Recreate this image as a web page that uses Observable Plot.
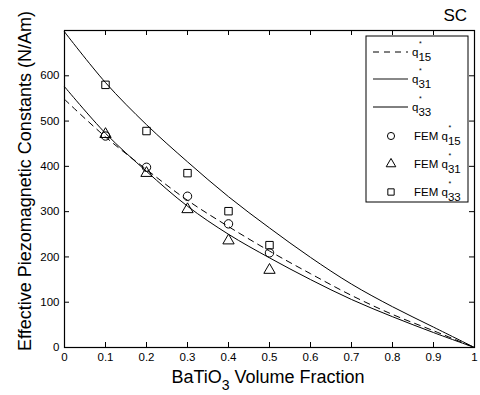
<!DOCTYPE html>
<html><head><meta charset="utf-8">
<script src="https://cdn.jsdelivr.net/npm/d3@7"></script>
<script src="https://cdn.jsdelivr.net/npm/@observablehq/plot@0.6"></script>
<style>body{margin:0;background:#fff} #chart{width:480px;height:395px}</style>
</head><body><div id="chart"></div>
<script>
// ---- data ----
const vf = [0, 0.1, 0.2, 0.3, 0.4, 0.5, 0.6, 0.7, 0.8, 0.9, 1.0];
const q15 = [548, 465, 393, 325, 267, 213, 163, 115, 73, 37, 0];
const q31 = [576, 473, 389, 312, 250, 198, 150, 106, 68, 33, 0];
const q33 = [697, 585, 492, 410, 333, 264, 199, 140, 90, 45, 0];
const femVf = [0.1, 0.2, 0.3, 0.4, 0.5];
const femQ15 = [467, 398, 334, 273, 209];
const femQ31 = [471, 385, 305, 236, 171];
const femQ33 = [580, 478, 385, 301, 226];
const xTicks = [0, 0.1, 0.2, 0.3, 0.4, 0.5, 0.6, 0.7, 0.8, 0.9, 1];
const yTicks = [0, 100, 200, 300, 400, 500, 600];

const W = 480, H = 395, mL = 64, mR = 6, mT = 30, mB = 48;
const innerW = W - mL - mR, innerH = H - mT - mB;
const FONT = "'Liberation Sans', Arial, sans-serif";

const curve = (ys) => vf.map((x, i) => ({x, y: ys[i]}));
const fem = (ys) => femVf.map((x, i) => ({x, y: ys[i]}));

const chart = Plot.plot({
  width: W, height: H,
  marginLeft: mL, marginRight: mR, marginTop: mT, marginBottom: mB,
  x: {domain: [0, 1]},
  y: {domain: [0, 700]},
  style: {fontFamily: FONT, fontSize: "11.5px", color: "#000", background: "#fff", overflow: "visible"},
  marks: [
    Plot.axisX(xTicks, {tickSize: 0, tickPadding: 5, label: null, tickFormat: d => String(d), fontSize: 11.5}),
    Plot.axisY(yTicks, {tickSize: 0, tickPadding: 5, label: null, fontSize: 11.5}),
    Plot.tickX(xTicks.slice(1, -1), {x: d => d, insetTop: innerH - 5, stroke: "#000"}),
    Plot.tickX(xTicks.slice(1, -1), {x: d => d, insetBottom: innerH - 5, stroke: "#000"}),
    Plot.tickY(yTicks.slice(1), {y: d => d, insetRight: innerW - 5, stroke: "#000"}),
    Plot.tickY(yTicks.slice(1), {y: d => d, insetLeft: innerW - 5, stroke: "#000"}),
    Plot.line(curve(q33), {x: "x", y: "y", curve: "catmull-rom", stroke: "#000", strokeWidth: 1}),
    Plot.line(curve(q31), {x: "x", y: "y", curve: "catmull-rom", stroke: "#000", strokeWidth: 1}),
    Plot.line(curve(q15), {x: "x", y: "y", curve: "catmull-rom", stroke: "#000", strokeWidth: 1, strokeDasharray: "6,5"}),
    Plot.dot(fem(femQ15), {x: "x", y: "y", symbol: "circle", r: 4.2, stroke: "#000", fill: "none", strokeWidth: 1}),
    Plot.dot(fem(femQ31), {x: "x", y: "y", symbol: "triangle", r: 4.2, stroke: "#000", fill: "none", strokeWidth: 1}),
    Plot.dot(fem(femQ33), {x: "x", y: "y", symbol: "square", r: 4.2, stroke: "#000", fill: "none", strokeWidth: 1}),
    Plot.frame({stroke: "#000", strokeWidth: 1.2})
  ]
});
document.getElementById("chart").appendChild(chart);

// ---- texts and legend drawn into the same SVG ----
const svg = d3.select(chart);
const g = svg.append("g").attr("font-family", FONT).attr("fill", "#000").attr("text-anchor", "start");

g.append("text").attr("x", 467).attr("y", 21).attr("text-anchor", "end").attr("font-size", 17).text("SC");

const xl = g.append("text").attr("x", 268).attr("y", 383).attr("text-anchor", "middle").attr("font-size", 18);
xl.append("tspan").text("BaTiO");
xl.append("tspan").attr("font-size", 14).attr("dy", 7).text("3");
xl.append("tspan").attr("dy", -7).text(" Volume Fraction");

g.append("text").attr("transform", "translate(31,181) rotate(-90)").attr("text-anchor", "middle")
  .attr("font-size", 18).text("Effective Piezomagnetic Constants (N/Am)");

// legend
const lg = svg.append("g").attr("font-family", FONT).attr("text-anchor", "start").attr("fill", "#000");
lg.append("rect").attr("x", 366).attr("y", 36).attr("width", 102).attr("height", 166)
  .attr("fill", "#fff").attr("stroke", "#000").attr("stroke-width", 1);
const legendItems = [
  {type: "line", dash: "6,5", color: "#000", w: 1, prefix: "", sub: "15"},
  {type: "line", dash: null, color: "#888", w: 2, prefix: "", sub: "31"},
  {type: "line", dash: null, color: "#000", w: 1, prefix: "", sub: "33"},
  {type: "sym", sym: d3.symbolCircle, prefix: "FEM ", sub: "15"},
  {type: "sym", sym: d3.symbolTriangle, prefix: "FEM ", sub: "31"},
  {type: "sym", sym: d3.symbolSquare, prefix: "FEM ", sub: "33"}
];
const rowsY = [52, 79, 107, 136, 164, 192];
legendItems.forEach((it, i) => {
  const y = rowsY[i];
  let tx;
  if (it.type === "line") {
    lg.append("line").attr("x1", 373).attr("x2", 408).attr("y1", y).attr("y2", y)
      .attr("stroke", it.color).attr("stroke-width", it.w).attr("stroke-dasharray", it.dash);
    tx = 412;
  } else {
    lg.append("path").attr("transform", `translate(391,${y})`)
      .attr("d", d3.symbol(it.sym, 40)()).attr("fill", "none").attr("stroke", "#000");
    tx = 414;
  }
  const t = lg.append("text").attr("x", tx).attr("y", y + 4).attr("font-size", 11.5);
  t.text(it.prefix + "q");
  const qEnd = tx + t.node().getComputedTextLength();
  lg.append("text").attr("x", qEnd + 0.5).attr("y", y - 6).attr("font-size", 7).text("*");
  lg.append("text").attr("x", qEnd).attr("y", y + 9).attr("font-size", 11.5).text(it.sub);
});
</script>
</body></html>
